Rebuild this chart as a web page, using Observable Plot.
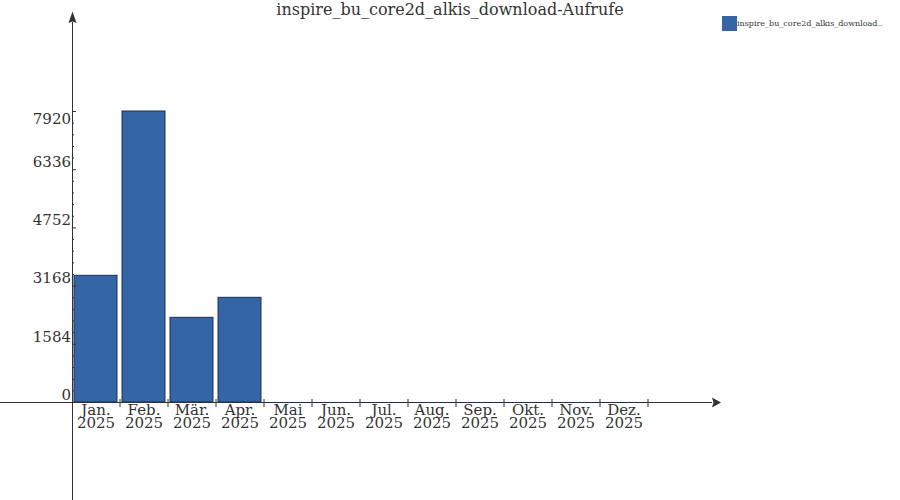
<!DOCTYPE html>
<html>
<head>
<meta charset="utf-8">
<script src="https://cdn.jsdelivr.net/npm/d3@7"></script>
<script src="https://cdn.jsdelivr.net/npm/@observablehq/plot@0.6"></script>
<style>
  html, body { margin: 0; padding: 0; background: #fff; }
  #chart { width: 900px; height: 500px; }
</style>
</head>
<body>
<div id="chart"></div>
<script>
// ---- data ----
const months = ["Jan.", "Feb.", "Mär.", "Apr.", "Mai", "Jun.", "Jul.", "Aug.", "Sep.", "Okt.", "Nov.", "Dez."];
const year = "2025";
const calls = [3448, 7920, 2305, 2849, 0, 0, 0, 0, 0, 0, 0, 0];
const yTicks = [0, 1584, 3168, 4752, 6336, 7920];
const yMinorTicks = [316.8, 633.6, 950.4, 1267.2, 1900.8, 2217.6, 2534.4, 2851.2,
  3484.8, 3801.6, 4118.4, 4435.2, 5068.8, 5385.6, 5702.4, 6019.2,
  6652.8, 6969.6, 7286.4, 7603.2];
const title = "inspire_bu_core2d_alkis_download-Aufrufe";
const legendLabel = "inspire_bu_core2d_alkis_download..";

const table = months.map((m, i) => ({ month: m, label: m + "\n" + year, value: calls[i] }));

const FILL = "#3465a4";
const EDGE = "#1b3152";
const INK = "#333333";
const FONT = "DejaVu Serif";

const plot = Plot.plot({
  width: 900,
  height: 500,
  marginLeft: 72,
  marginRight: 252,
  marginTop: 111,
  marginBottom: 98,
  style: { fontFamily: FONT, fontSize: "15px", color: INK, background: "#fff", overflow: "visible" },
  x: { domain: months, paddingInner: 0.1, paddingOuter: 0.05, align: 0.5, axis: null },
  y: { domain: [0, yTicks[yTicks.length - 1]], axis: null },
  marks: [
    Plot.barY(table, { x: "month", y: "value", fill: FILL, stroke: EDGE, strokeWidth: 1 }),
    Plot.axisY(yMinorTicks, { anchor: "left", tickSize: -2, fill: "none", stroke: INK, label: null }),
    Plot.axisY(yTicks, { anchor: "left", tickSize: -4, fill: "none", stroke: INK, label: null }),
    Plot.text(yTicks.slice(0, -1), {
      y: d => d, text: d => String(d), frameAnchor: "left", textAnchor: "end",
      lineAnchor: "middle", dx: -1.5, dy: -7.5, fill: INK, fontSize: 15
    }),
    Plot.text(yTicks.slice(-1), {
      y: d => d, text: d => String(d), frameAnchor: "left", textAnchor: "end",
      lineAnchor: "middle", dx: -1.5, dy: 8, fill: INK, fontSize: 15
    }),
    Plot.text(table, {
      x: "month", y: 0, text: "label", lineAnchor: "top", lineHeight: 0.89,
      dy: 3, fill: INK, fontSize: 15
    })
  ]
});

document.getElementById("chart").appendChild(plot);

// ---- axis chrome, title and legend, positioned from Plot's scales ----
const xs = plot.scale("x");
const ys = plot.scale("y");
const svg = d3.select(plot);
const x0 = xs.range[0];
const x1 = xs.range[1];
const yZero = ys.apply(0);
const xEnd = x1 + x0;            // x axis runs past the last category
const gap = (xs.step - xs.bandwidth) / 2;

const g = svg.append("g").attr("stroke", INK).attr("fill", "none");
// x axis line
g.append("line").attr("x1", 0).attr("x2", xEnd - 8).attr("y1", yZero + 0.5).attr("y2", yZero + 0.5);
// zero-height bars show as a dark edge along the axis
table.filter(d => d.value === 0).forEach(d => {
  const bx = xs.apply(d.month);
  svg.append("line").attr("x1", bx).attr("x2", bx + xs.bandwidth)
    .attr("y1", ys.apply(d.value) + 0.5).attr("y2", ys.apply(d.value) + 0.5)
    .attr("stroke", EDGE);
});
// y axis line
g.append("line").attr("x1", x0 + 0.5).attr("x2", x0 + 0.5).attr("y1", 22).attr("y2", 500);
// category boundary ticks on x axis
months.forEach(m => {
  const bx = xs.apply(m) + xs.bandwidth + gap;
  g.append("line").attr("x1", bx + 0.5).attr("x2", bx + 0.5).attr("y1", yZero - 3).attr("y2", yZero + 5);
});
// arrows
svg.append("path")
  .attr("d", `M${xEnd + 1},${yZero + 0.5} L${xEnd - 8},${yZero - 4.5} L${xEnd - 6.5},${yZero + 0.5} L${xEnd - 8},${yZero + 5.5} Z`)
  .attr("fill", INK);
svg.append("path")
  .attr("d", `M${x0 + 0.5},${11.5} L${x0 + 4.5},${23} L${x0 + 0.5},${21.5} L${x0 - 3.5},${23} Z`)
  .attr("fill", INK);

// title
svg.append("text")
  .attr("x", 450).attr("y", 14.5)
  .style("text-anchor", "middle")
  .style("font-family", FONT).style("font-size", "16px")
  .attr("fill", INK)
  .text(title);

// legend
svg.append("rect")
  .attr("x", 722).attr("y", 16).attr("width", 15).attr("height", 15)
  .attr("fill", FILL);
svg.append("text")
  .attr("x", 737).attr("y", 26)
  .style("text-anchor", "start")
  .style("font-family", FONT).style("font-size", "8px")
  .attr("fill", INK)
  .text(legendLabel);
</script>
</body>
</html>
